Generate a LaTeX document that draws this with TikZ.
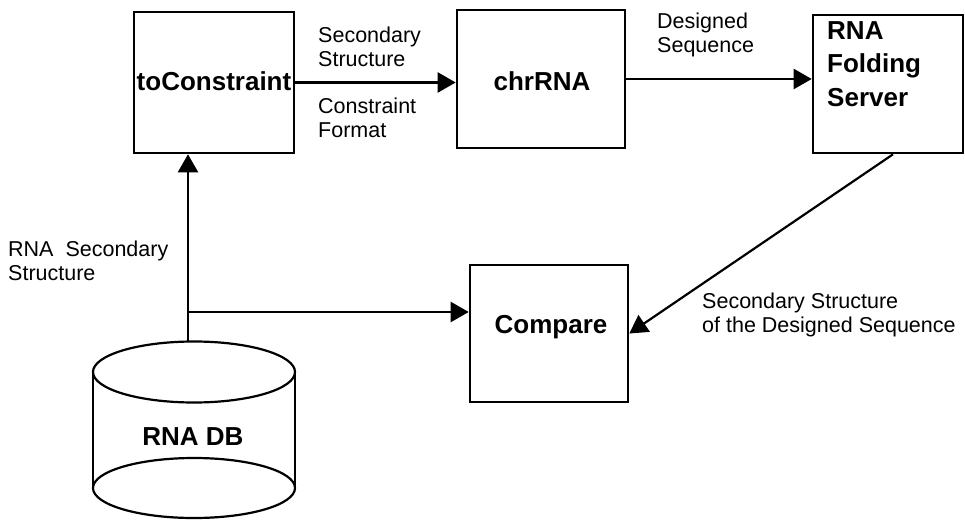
\documentclass[tikz,border=0pt]{standalone}
\usepackage{fontspec}
\setmainfont{Liberation Sans}
\usetikzlibrary{arrows.meta}
\begin{document}
\begin{tikzpicture}[x=1pt,y=-1pt,
  box/.style={draw, line width=2.6pt, inner sep=0pt},
  btxt/.style={font=\fontsize{26}{33.5}\selectfont\bfseries, inner sep=0pt, align=left},
  lbl/.style={font=\fontsize{21.5}{24}\selectfont, align=left, inner sep=0pt, anchor=north west},
  arr/.style={line width=2.2pt, -{Triangle[length=18pt,width=20pt]}},
  cyl/.style={line width=2.2pt}]
\useasboundingbox (0,0) rectangle (965,521);
% boxes
\node[box, minimum width=160pt, minimum height=141pt] (toC) at (214,82.5) {};
\node[box, minimum width=168pt, minimum height=138pt] (chr) at (541,79) {};
\node[box, minimum width=150pt, minimum height=138pt] (fold) at (888,84) {};
\node[box, minimum width=158pt, minimum height=137pt] (cmp) at (549,333.5) {};
% box texts
\node[btxt] (toCt) at (214,81) {toConstraint};
\node[btxt] (chrt) at (542,81) {chrRNA};
\node[btxt, anchor=north west] (foldt) at (827,21) {RNA\\Folding\\Server};
\node[btxt, anchor=base] (cmpt) at (551,333) {Compare};
% cylinder
\draw[cyl] (194,372) ellipse [x radius=101, y radius=30.5];
\draw[cyl] (194,488) ellipse [x radius=101, y radius=30];
\draw[cyl] (93,372) -- (93,488);
\draw[cyl] (295,372) -- (295,488);
\node[btxt, anchor=base] (dbt) at (193,445) {RNA DB};
\coordinate (db) at (188,341.6);
\coordinate (br) at (188,312);
% connectors
\draw[arr] (toC.east) -- (toC.east -| chr.west);
\draw[arr] (chr.east) -- (chr.east -| fold.west);
\draw[arr] (db) -- (db |- toC.south);
\draw[arr] (br) -- (br -| cmp.west);
\draw[arr] ([xshift=5pt]fold.south) -- (cmp.east);
% labels
\node[lbl] (l1) at (318,27) {Secondary\\Structure};
\node[lbl] (l2) at (318,98) {Constraint\\Format};
\node[lbl] (l3) at (657,13) {Designed\\Sequence};
\node[lbl] (l4) at (8,241) {RNA\ \ Secondary\\Structure};
\node[lbl] (l5) at (702,293) {Secondary Structure\\of the Designed Sequence};
\end{tikzpicture}
\end{document}
